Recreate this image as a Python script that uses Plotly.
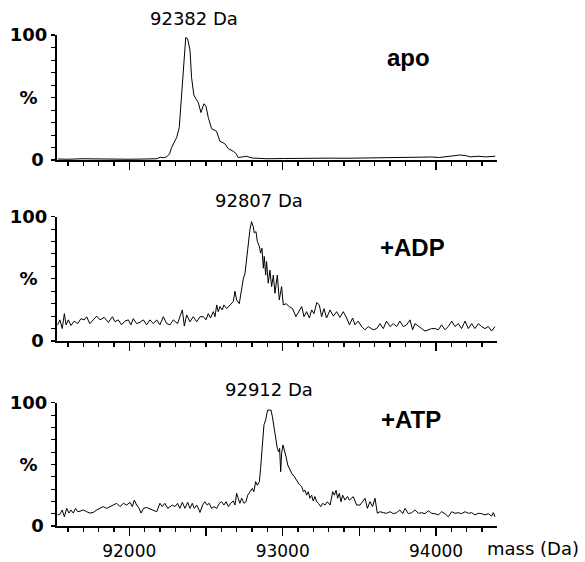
import plotly.graph_objects as go

# ---------------- data ----------------
apo_mass = [91535, 91596, 91697, 91798, 91899, 92000, 92101, 92152, 92179, 92202, 92222, 92244,
            92263, 92276, 92293, 92309, 92326, 92342, 92352, 92368, 92380, 92396, 92406, 92421,
            92434, 92450, 92467, 92480, 92487, 92500, 92515, 92537, 92556, 92569, 92591, 92606,
            92623, 92646, 92662, 92678, 92697, 92710, 92738, 92765, 92788, 92808, 92859, 92895,
            93010, 93111, 93213, 93314, 93415, 93516, 93617, 93718, 93819, 93920, 93970, 94021,
            94071, 94122, 94152, 94193, 94223, 94273, 94324, 94385]
apo_int = [0.8, 0.6, 1.0, 0.7, 0.9, 0.6, 0.8, 0.7, 1.0, 2.2, 1.8, 2.5,
           5, 10, 14, 18, 26, 56, 77, 98, 97, 88, 66, 52,
           49, 46, 38, 44, 45, 43, 34, 25, 24, 23, 15, 14,
           13, 9, 8, 7, 5, 2, 2.5, 3, 2, 1.5, 1.3, 1,
           1.2, 1.4, 1.3, 1.5, 1.4, 1.6, 1.5, 1.6, 1.8, 2.5, 2.4, 2.0,
           2.5, 3.5, 4, 3.5, 2.5, 3, 2.5, 3]

adp_mass = [91533, 91548, 91563, 91577, 91588, 91603, 91620, 91641, 91664, 91685, 91707, 91722,
            91743, 91766, 91788, 91809, 91837, 91864, 91890, 91907, 91928, 91950, 91972, 91994,
            92011, 92026, 92048, 92070, 92092, 92113, 92135, 92157, 92179, 92200, 92222, 92244,
            92266, 92287, 92315, 92330, 92346, 92359, 92374, 92396, 92417, 92440, 92461, 92483,
            92500, 92515, 92530, 92548, 92559, 92570, 92580, 92591, 92606, 92617, 92635, 92657,
            92678, 92689, 92700, 92717, 92729, 92744, 92754, 92765, 92776, 92787, 92797, 92808,
            92815, 92826, 92835, 92848, 92856, 92865, 92874, 92880, 92889, 92895, 92906, 92917,
            92928, 92939, 92950, 92965, 92978, 92993, 93004, 93022, 93043, 93065, 93086, 93108,
            93124, 93139, 93156, 93174, 93189, 93204, 93222, 93239, 93254, 93269, 93286, 93309,
            93330, 93352, 93373, 93395, 93417, 93435, 93456, 93471, 93492, 93515, 93536, 93558,
            93590, 93613, 93634, 93656, 93677, 93700, 93721, 93743, 93764, 93786, 93808, 93830,
            93847, 93862, 93885, 93906, 93928, 93949, 93971, 93993, 94015, 94036, 94058, 94079,
            94102, 94123, 94145, 94166, 94189, 94210, 94232, 94253, 94275, 94297, 94319, 94340,
            94362, 94384]
adp_int = [13, 17, 10, 22, 13, 17, 12.5, 16, 14, 18, 17, 19.5,
           14, 17, 20, 17, 19, 15, 19.5, 15.5, 17, 13, 16, 17,
           13, 18, 14, 15, 17, 13, 17, 14, 17, 13, 19.5, 14,
           13, 17, 14, 19.5, 25, 12, 21, 15.5, 19.5, 15.5, 19.5, 19.6,
           17, 22, 18.5, 23.6, 19.6, 29, 23.6, 27.7, 25, 29, 26, 29,
           31.7, 40, 33, 30, 38.7, 50.5, 54, 65, 81, 90, 96, 92,
           87, 88, 80, 76, 70.7, 74.6, 58.6, 68, 53, 64, 46.5, 57,
           43.8, 53, 38.4, 53, 33, 43.8, 29, 30, 27.7, 26, 19.6, 25,
           27.7, 19.6, 23.6, 18.5, 25, 22, 30.9, 29, 19.6, 26, 18.5, 25,
           20, 23.6, 19, 23.6, 18.5, 13, 18.5, 13, 16, 11.6, 9, 11.6,
           9, 10, 14, 10, 16, 11.6, 14, 11.6, 16, 11.6, 13, 17,
           9, 14, 11.6, 10, 8, 9, 10, 10, 9, 13, 9, 11.6,
           16, 11.6, 14, 10, 16, 10, 14, 10, 14, 11.6, 10, 11.6,
           8, 11.6]

atp_mass = [91533, 91548, 91563, 91577, 91592, 91607, 91620, 91635, 91650, 91664, 91679, 91700,
            91722, 91743, 91766, 91787, 91809, 91830, 91852, 91875, 91896, 91918, 91939, 91962,
            91983, 92005, 92020, 92033, 92048, 92064, 92077, 92092, 92113, 92135, 92157, 92179,
            92200, 92215, 92232, 92251, 92266, 92281, 92298, 92315, 92330, 92346, 92363, 92381,
            92396, 92411, 92424, 92440, 92455, 92461, 92478, 92493, 92508, 92521, 92537, 92552,
            92570, 92587, 92602, 92617, 92631, 92646, 92661, 92678, 92689, 92700, 92710, 92721,
            92733, 92748, 92761, 92772, 92787, 92802, 92812, 92824, 92835, 92848, 92856, 92867,
            92878, 92889, 92902, 92912, 92924, 92933, 92944, 92954, 92965, 92974, 92980, 92987,
            92993, 93002, 93012, 93022, 93033, 93043, 93059, 93076, 93091, 93108, 93124, 93135,
            93146, 93156, 93167, 93178, 93189, 93199, 93210, 93222, 93233, 93248, 93261, 93276,
            93291, 93309, 93326, 93337, 93348, 93358, 93369, 93380, 93391, 93406, 93422, 93435,
            93460, 93482, 93504, 93537, 93552, 93569, 93586, 93602, 93617, 93634, 93656, 93677,
            93700, 93721, 93743, 93764, 93782, 93798, 93819, 93841, 93862, 93885, 93906, 93928,
            93949, 93971, 93993, 94015, 94036, 94058, 94079, 94102, 94123, 94145, 94166, 94189,
            94210, 94232, 94253, 94275, 94297, 94319, 94340, 94362, 94373, 94384]
atp_int = [9, 9.5, 13, 7.5, 14.3, 10.5, 13, 10.5, 14.3, 11.6, 12, 13,
           11.6, 10.5, 11, 13, 14.3, 15.7, 14.3, 15.7, 17.6, 18.4, 15.7, 18.4,
           17, 19.2, 15.7, 21, 17, 14.3, 10.5, 14.3, 15, 14, 13, 11.6,
           18.4, 15.7, 18.4, 14.3, 15.7, 17, 15.7, 18.4, 14.3, 19.2, 14.3, 19.2,
           14.3, 18.4, 14.3, 17, 13, 11, 17, 19.7, 17, 18.4, 14.3, 15.7,
           14.3, 18.4, 19.7, 17, 19.7, 15.7, 18.4, 20.3, 17, 26.5, 22.5, 18.4,
           22.5, 18.4, 19.7, 25, 27.8, 30.5, 27.8, 36, 33, 36, 46.8, 65.7,
           82, 86, 94, 94, 94, 88.6, 79, 68.4, 63, 60, 63, 44,
           59, 65.7, 61.6, 56.2, 49.5, 46.8, 42.7, 40, 36.5, 33.8, 31.9, 27.8,
           29, 25, 27.8, 22.5, 25, 20.3, 23.9, 19.7, 18.4, 15.7, 18.4, 17,
           19.7, 17, 27.8, 25, 29, 22.5, 26.5, 19.7, 25, 21, 23.9, 21,
           23.8, 17, 17, 22.5, 14.3, 19.7, 15.7, 22.5, 10.3, 11.6, 10.8, 10.3,
           11.6, 10, 10.8, 13, 10, 14.3, 10, 10.8, 13, 10.3, 10.8, 10,
           12.4, 10.3, 10, 9, 11.6, 10, 7.5, 11.6, 10.3, 10.8, 10, 11.6,
           10.3, 10.8, 9, 10.3, 10, 9, 10, 8, 10.8, 7.5]

x_tick_vals = [92000, 92500, 93000, 93500, 94000]
x_tick_text = ["92000", "", "93000", "", "94000"]
y_tick_vals = [0, 50, 100]
y_tick_text = ["0\u2009", "%\u00a0\u2009", "100"]
peak_labels = ["92382 Da", "92807 Da", "92912 Da"]
condition_labels = ["apo", "+ADP", "+ATP"]
x_label = "mass (Da)"

# ---------------- figure ----------------
W, H = 585, 562
L, R = 57, 88


def py(p):
    return 1 - p / H


def px(p):
    return (p - L) / (W - L - R)


series = [(apo_mass, apo_int), (adp_mass, adp_int), (atp_mass, atp_int)]
domains = [(py(160), py(35)), (py(341), py(216.7)), (py(526), py(402.7))]

fig = go.Figure()
for i, (m, v) in enumerate(series):
    sfx = "" if i == 0 else str(i + 1)
    fig.add_trace(go.Scatter(x=m, y=v, mode="lines", line=dict(color="black", width=1),
                             xaxis="x" + sfx, yaxis="y" + sfx, showlegend=False,
                             hoverinfo="skip"))

layout = dict(width=W, height=H, autosize=False, template="none",
              paper_bgcolor="white", plot_bgcolor="white",
              margin=dict(l=L, r=R, t=0, b=0, pad=0),
              font=dict(family="DejaVu Sans", size=18, color="black"),
              showlegend=False)

for i in range(3):
    sfx = "" if i == 0 else str(i + 1)
    layout["xaxis" + sfx] = dict(
        domain=[0, 1], anchor="y" + sfx, range=[91529, 94397],
        showline=True, linecolor="black", linewidth=2, mirror=False,
        showgrid=False, zeroline=False, automargin=False,
        tickmode="array", tickvals=x_tick_vals, ticktext=x_tick_text,
        ticks="outside", ticklen=8, tickwidth=1.5, tickcolor="black",
        showticklabels=(i == 2), ticklabelstandoff=1,
        tickfont=dict(family="DejaVu Sans", size=17, color="black"),
        minor=dict(tickmode="linear", tick0=92000, dtick=100, ticks="outside",
                   ticklen=4, tickwidth=1.3, tickcolor="black", showgrid=False),
    )
    layout["yaxis" + sfx] = dict(
        domain=list(domains[i]), anchor="x" + sfx, range=[0, 100],
        showline=True, linecolor="black", linewidth=2,
        showgrid=False, zeroline=False, automargin=False,
        tickmode="array", tickvals=y_tick_vals, ticktext=y_tick_text,
        ticks="outside", ticklen=4, tickwidth=1.2, tickcolor="black",
        tickfont=dict(family="DejaVu Sans", size=18, color="black", weight="bold"),
        minor=dict(tickmode="linear", tick0=0, dtick=10, ticks="outside",
                   ticklen=4, tickwidth=1, tickcolor="black", showgrid=False),
    )

fig.update_layout(**layout)

peak_pos = [(194, 31.2), (259, 213.2), (269, 402.2)]
cond_pos = [(408, 72.8), (412, 262.8), (411, 435.4)]
for i in range(3):
    fig.add_annotation(text=peak_labels[i], xref="paper", yref="paper",
                       x=px(peak_pos[i][0]), y=py(peak_pos[i][1]),
                       xanchor="center", yanchor="bottom", showarrow=False,
                       font=dict(family="DejaVu Sans", size=18, color="black"))
    fig.add_annotation(text=condition_labels[i], xref="paper", yref="paper",
                       x=px(cond_pos[i][0]), y=py(cond_pos[i][1]),
                       xanchor="center", yanchor="bottom", showarrow=False,
                       font=dict(family="Liberation Sans", size=24, color="black",
                                 weight="bold"))

fig.add_annotation(text=x_label, xref="paper", yref="paper", x=px(485), y=0.002,
                   xanchor="left", yanchor="bottom", showarrow=False,
                   font=dict(family="DejaVu Sans", size=18, color="black"))

fig.write_html("out.html",
               config={"displayModeBar": False, "staticPlot": True},
               post_script="document.body.style.margin='0';"
                           "document.body.style.overflow='hidden';")
